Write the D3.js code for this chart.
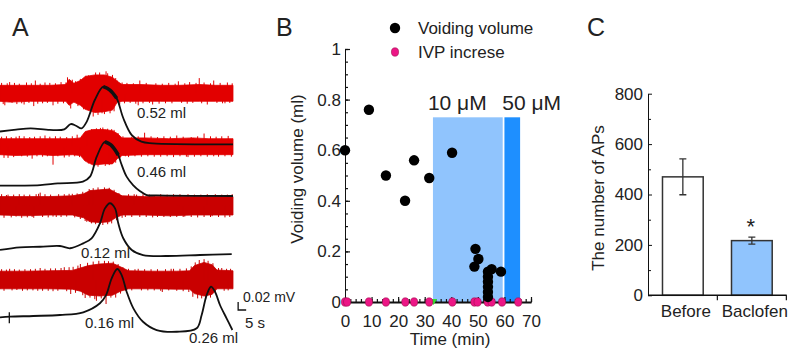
<!DOCTYPE html>
<html>
<head>
<meta charset="utf-8">
<script src="https://cdn.jsdelivr.net/npm/d3@7"></script>
<style>
body { margin: 0; background: #fff; }
svg text { font-family: "Liberation Sans", Arial, sans-serif; fill: #222; }
</style>
</head>
<body>
<svg id="fig" width="798" height="351"></svg>
<script>
// ---------- Panel A: nerve activity (t in s, uV) and bladder pressure (t in s, cmH2O) ----------
// envelope rows: [t, upper uV, lower uV]
const nerveEnv1 = [[0,20,20],[6,20,22],[19,20,20],[31,20,20],[41,22,20],[43,35,30],[46,25,22],[50,32,30],[53,42,40],[59,46,48],[65,46,46],[70,40,42],[73,30,22],[76,22,20],[87,22,20],[100,20,20],[112,20,20],[124,22,20],[134,20,20],[145,20,20]];
const nerveEnv2 = [[0,20,20],[10,20,22],[25,20,20],[33,20,22],[45,20,20],[50,22,22],[53,38,36],[58,43,46],[65,43,43],[70,40,43],[73,33,30],[76,22,22],[90,22,20],[105,20,20],[120,22,20],[130,20,20],[145,20,20]];
const nerveEnv3 = [[0,23,23],[15,23,25],[30,23,23],[45,25,23],[52,30,30],[56,38,40],[62,40,42],[68,42,40],[72,33,30],[76,25,23],[90,23,23],[105,23,25],[120,23,23],[135,23,23],[145,23,23]];
const nerveEnv4 = [[0,22,22],[15,22,22],[30,23,22],[45,24,23],[50,30,28],[55,36,38],[62,40,40],[70,42,38],[75,33,28],[80,23,22],[95,22,22],[110,22,23],[118,23,23],[121,36,34],[127,44,40],[132,38,36],[135,25,22],[145,23,22]];

// single large deflections that make the fuzzy edge: [t, uV]
const nerveSpk1 = [[1,26],[2,-27],[3,-30],[4.5,25],[6,28],[7.5,-24],[9,26],[10.5,-27],[12,24],[13.5,-25],[15,-28],[16.5,27],[18,-24],[19.5,25],[21,-32],[22,32],[23.5,-26],[25,24],[26.5,-25],[28,27],[29.5,-24],[31,26],[33,-30],[34.5,25],[36,-26],[38,28],[39.5,-25],[41,27],[42,40],[44,-38],[45,34],[47,30],[48.5,-32],[50,36],[52,-40],[53.5,44],[55,45],[56.5,-50],[58,-58],[59.5,52],[61,-54],[62,52],[63.5,-50],[65,-52],[66,55],[67,50],[68.5,-50],[70,46],[71,-45],[72,38],[73,32],[74.5,-28],[76,27],[77.5,-25],[79,26],[81,-24],[83,25],[84.5,-26],[86,-30],[87,32],[89,-25],[91,26],[93,-24],[95,-28],[97,25],[99,-26],[101,24],[103,-25],[105,26],[107,-25],[109,24],[111,30],[113,-24],[115,25],[116.5,-26],[118,28],[120,-24],[122,26],[124,38],[125.5,-25],[127,27],[129,-28],[131,25],[133,32],[135,-24],[137,26],[138.5,-25],[140,-25],[141.5,27],[143,-24],[144.5,25]];
const nerveSpk2 = [[1,25],[2.5,-28],[4,26],[5,-28],[7,24],[8.5,-26],[10,25],[12,27],[13.5,-24],[15,26],[17,-25],[18.5,24],[20,-30],[21.5,25],[23,-24],[25,26],[26.5,-25],[28,28],[29.5,-24],[31,25],[33,-45],[34.5,26],[36,-24],[37.5,25],[40,-27],[41.5,24],[43,-25],[45,26],[46.5,-24],[48,30],[49.5,-26],[51,27],[52.5,-34],[54,38],[55,-42],[56,40],[57,44],[58.5,-48],[60,46],[61,-50],[62.5,47],[64,48],[65.5,-48],[67,45],[68,-46],[69.5,44],[71,42],[72,-40],[73.5,34],[75,-27],[76.5,26],[78,-24],[80,-26],[82,25],[84,-24],[86,26],[88,-25],[90,35],[92,-24],[94,26],[96,-25],[98,24],[100,-25],[102,26],[104,-24],[106,25],[108,-26],[110,28],[112,-24],[114,25],[116,-25],[117,-26],[119,24],[121,-25],[123,26],[125,-24],[127,33],[129,-25],[131,26],[133,-24],[134.5,25],[136,-25],[138,26],[140,-24],[142,27],[144,-25]];
const nerveSpk3 = [[1,29],[2.5,-30],[4,27],[5,28],[7,-29],[8.5,28],[10,-27],[12,29],[13.5,-30],[15,28],[17,-29],[18.5,28],[20,-28],[21,-30],[22.5,29],[24,30],[25,33],[26.5,-28],[28,29],[30,-29],[31.5,28],[33,-27],[35,-28],[36.5,29],[38,-28],[40,29],[41.5,-27],[43,30],[45,30],[46.5,-29],[48,31],[50,-33],[51.5,35],[53,-38],[54,-40],[55.5,42],[57,-44],[58,44],[59.5,-46],[61,46],[62.5,-45],[64,-48],[65,46],[66,42],[67,-46],[68,45],[69.5,-44],[71,40],[72.5,-36],[74,32],[76,-30],[78,-28],[80,29],[82,-28],[83.5,29],[85,28],[87,-28],[89,29],[91,-28],[93,28],[95,-29],[96,27],[98,-28],[100,29],[102,-28],[104,28],[106,-28],[108,29],[110,-28],[112,29],[114,-28],[115,-27],[117,29],[119,-28],[121,28],[123,-29],[125,28],[127,-28],[129,29],[131,-28],[132,-26],[134,29],[136,-28],[138,28],[140,-29],[141.5,28],[143,-28],[144.5,29]];
const nerveSpk4 = [[1,27],[2.5,-27],[4,26],[6,28],[7.5,-26],[9,27],[10.5,-25],[12,26],[14,-27],[15.5,27],[17,-26],[19,27],[20.5,-26],[22,28],[23.5,-27],[25,30],[26.5,-27],[28,28],[30,-27],[31.5,29],[33,-28],[34.5,29],[36,-27],[38,30],[40,32],[41.5,-28],[43,32],[44,-35],[45.5,33],[47,-32],[48.5,36],[50,40],[51.5,-38],[53,-45],[54.5,43],[56,-44],[58,46],[59,-48],[60,-52],[61.5,48],[63,-46],[64,36],[65,48],[66,-60],[67.5,47],[69,-44],[70.5,46],[72,-44],[73.5,40],[75,-34],[76.5,32],[78,-27],[80,28],[82,-26],[84,27],[86,28],[88,-26],[90,27],[92,-26],[94,27],[96,-26],[98,27],[100,-27],[101,-30],[103,27],[105,-26],[106.5,28],[108,28],[110,-27],[112,28],[114,-28],[116,29],[117.5,-30],[119,34],[120,-42],[121.5,44],[123,-46],[124,50],[125.5,-46],[127,52],[128,-48],[129.5,48],[131,-44],[132.5,42],[134,-34],[136,30],[138,30],[139.5,-27],[141,28],[142,-26],[143.5,28]];

const pressure1 = [[0,15],[10,17],[19,18.5],[31,16.7],[40,17.4],[44,23.3],[47.3,21.4],[50.8,18.6],[54,26],[59,50],[64.3,64.8],[68.4,61],[72.6,52],[76.7,30],[82,11],[88,3.7],[95,1.9],[145,0.8]];
const pressure2 = [[0,12.6],[25,13.3],[36,15.2],[51.6,17],[56,22.6],[60.2,44.8],[65.3,61.4],[69,57.8],[73.6,46.7],[75.3,37.8],[78.8,22.6],[82.8,13.3],[87,6.7],[91.3,2.2],[97.5,1.7],[145,1.1]];
const pressure3 = [[0,7.8],[12.4,10.8],[25,11.4],[37.3,12.2],[43.6,9.7],[51.8,15.2],[57,20.8],[62.2,37.4],[65.3,54],[68.4,59.7],[71.6,54],[73.6,37.4],[76.7,20.8],[82,7.8],[89,2.2],[103.7,1.1],[124.5,2.2],[144.2,3.3]];
const pressure4 = [[0,16.3],[6.2,17],[20.7,17.8],[37.3,18.9],[51.8,21.9],[62.2,31.9],[66,41],[69.5,59.7],[73,70],[75.7,63.3],[78.8,44.8],[83,26.3],[89,11.4],[97.5,2.2],[110,0.3],[122.4,4.1],[125.5,18.9],[128.6,41],[131.3,50.3],[133.8,44.8],[136.9,30],[141,15.2],[144.6,2.2]];

const volumeLabels = ["0.52 ml", "0.46 ml", "0.12 ml", "0.16 ml", "0.26 ml"];
const stimMarkTime = 5.8;

// ---------- Panel B ----------
const voidTime = [0, 9, 15.4, 22.6, 26, 31.7, 40.3, 49.1, 48.7, 50.2, 53.8, 53.8, 53.8, 53.8, 53.8, 53.8, 55.2, 58.7];
const voidVol  = [0.60, 0.76, 0.50, 0.40, 0.56, 0.49, 0.59, 0.21, 0.14, 0.17, 0.12, 0.10, 0.08, 0.06, 0.04, 0.02, 0.13, 0.12];
const ivpTime  = [0, 0.8, 9, 15.4, 22.7, 26, 31.7, 40.4, 48.7, 49.9, 53.7, 55.2, 59.1, 65.2];
const drugStart = [33.1, 60];
const drugEnd   = [59.35, 65.9];
const drugTop   = 0.73;
const drugLabels = ["10 \u03bcM", "50 \u03bcM"];
const legendLabels = ["Voiding volume", "IVP increse"];
const drugOnset = 33.3;

// ---------- Panel C ----------
const groups = ["Before", "Baclofen"];
const apMean = [470, 217];
const apErr  = [71, 14];

const svg = d3.select("#fig");

// ====================== Panel A ======================
const gA = svg.append("g");
gA.append("text").attr("x", 12).attr("y", 36).style("font-size", "25px").text("A");

const tScale = d3.scaleLinear().domain([0, 145]).range([0, 233]);

const rowsA = [
  { env: nerveEnv1, spk: nerveSpk1, prs: pressure1, center: 93.3,  zero: 145, col: "#e20000", thick: [63, 73.5] },
  { env: nerveEnv2, spk: nerveSpk2, prs: pressure2, center: 146.7, zero: 197, col: "#e20000", thick: [64.5, 74] },
  { env: nerveEnv3, spk: nerveSpk3, prs: pressure3, center: 205.8, zero: 257, col: "#c90000" },
  { env: nerveEnv4, spk: nerveSpk4, prs: pressure4, center: 280,   zero: 332, col: "#c90000" }
];

rowsA.forEach(r => {
  // 20 uV = 8 px
  r.amp = d3.scaleLinear().domain([0, 20]).range([r.center, r.center - 8]);
  r.pY = d3.scaleLinear().domain([0, 1]).range([r.zero, r.zero - 0.9]);
});

// nerve bands first
rowsA.forEach(r => {
  const area = d3.area()
    .x(d => tScale(d[0]))
    .y0(d => r.amp(-d[2]))
    .y1(d => r.amp(d[1]))
    .curve(d3.curveLinear);
  gA.append("path").datum(r.env)
    .attr("d", area)
    .attr("fill", r.col)
    .attr("stroke", r.col)
    .attr("stroke-width", 0.8);
  gA.selectAll(null).data(r.spk).enter().append("line")
    .attr("x1", d => tScale(d[0])).attr("x2", d => tScale(d[0]))
    .attr("y1", r.amp(0)).attr("y2", d => r.amp(d[1]))
    .attr("stroke", r.col).attr("stroke-width", 1);
});

// pressure traces on top
rowsA.forEach(r => {
  const line = d3.line()
    .x(d => tScale(d[0]))
    .y(d => r.pY(d[1]))
    .curve(d3.curveCatmullRom.alpha(0.5));
  gA.append("path").datum(r.prs)
    .attr("d", line)
    .attr("fill", "none")
    .attr("stroke", "#111")
    .attr("stroke-width", 1.8);
  if (r.thick) {
    gA.append("path").datum(r.prs.filter(d => d[0] >= r.thick[0] && d[0] <= r.thick[1]))
      .attr("d", line)
      .attr("fill", "none")
      .attr("stroke", "#111")
      .attr("stroke-width", 3.6);
  }
});

// stimulation mark on last row
{
  const r = rowsA[3];
  const x0 = tScale(stimMarkTime);
  gA.append("line").attr("x1", x0).attr("x2", x0)
    .attr("y1", r.pY(16.3) - 5).attr("y2", r.pY(16.3) + 6)
    .attr("stroke", "#111").attr("stroke-width", 1.3);
}

const volPos = [[137, 118], [137, 177], [81, 258], [85, 328], [189, 343]];
gA.selectAll("text.vol").data(volumeLabels).enter().append("text")
  .attr("class", "vol")
  .attr("x", (d, i) => volPos[i][0]).attr("y", (d, i) => volPos[i][1])
  .style("font-size", "15px")
  .text(d => d);

// scale bar: 0.02 mV, 5 s
{
  const sbAmp = d3.scaleLinear().domain([0, 20]).range([310, 302]);
  const sx0 = tScale(148.2), sx1 = tScale(148.2 + 5);
  gA.append("path")
    .attr("d", `M${sx0},${sbAmp(20)}V${sbAmp(0)}H${sx1}`)
    .attr("fill", "none").attr("stroke", "#111").attr("stroke-width", 1.3);
  gA.append("text").attr("x", 243).attr("y", 302).style("font-size", "14px").text("0.02 mV");
  gA.append("text").attr("x", 245).attr("y", 328).style("font-size", "15px").text("5 s");
}

// ====================== Panel B ======================
const gB = svg.append("g");
gB.append("text").attr("x", 276).attr("y", 36).style("font-size", "25px").text("B");

const xB = d3.scaleLinear().domain([0, 70]).range([345, 531]);
const yB = d3.scaleLinear().domain([0, 1]).range([302, 49]);

// drug application shading
gB.selectAll("rect.drug").data(drugStart).enter().append("rect")
  .attr("class", "drug")
  .attr("x", (d, i) => xB(d))
  .attr("width", (d, i) => xB(drugEnd[i]) - xB(d))
  .attr("y", yB(drugTop))
  .attr("height", yB(0) - yB(drugTop))
  .attr("fill", (d, i) => i === 0 ? "#90c4fd" : "#1e8fff");

gB.selectAll("text.drug").data(drugLabels).enter().append("text")
  .attr("class", "drug")
  .attr("x", (d, i) => i === 0 ? xB(31.2) : xB(59.2))
  .attr("y", 110)
  .style("font-size", "21px")
  .text(d => d);

// y axis (inward ticks)
const yAxisMinor = d3.axisLeft(yB).tickValues(d3.range(0, 1.0001, 0.05)).tickSize(-3).tickFormat("").tickSizeOuter(0);
const yAxisMajor = d3.axisLeft(yB).tickValues([0, 0.2, 0.4, 0.6, 0.8, 1]).tickSize(-5).tickPadding(4).tickSizeOuter(0)
  .tickFormat(d => (d === 0 || d === 1) ? String(d) : d3.format(".1f")(d));
gB.append("g").attr("transform", "translate(345,0)").call(yAxisMinor);
const gyB = gB.append("g").attr("transform", "translate(345,0)").call(yAxisMajor);
gyB.selectAll("text").style("font-size", "17px").attr("fill", "#222");

// x axis (inward ticks)
const xAxisMinor = d3.axisBottom(xB).tickValues(d3.range(0, 70.001, 2)).tickSize(-3).tickFormat("").tickSizeOuter(0);
const xAxisMajor = d3.axisBottom(xB).tickValues(d3.range(0, 71, 10)).tickSize(-5).tickPadding(13).tickSizeOuter(0);
gB.append("g").attr("transform", "translate(0,302)").call(xAxisMinor);
const gxB = gB.append("g").attr("transform", "translate(0,302)").call(xAxisMajor);
gxB.selectAll("text").style("font-size", "17px").attr("fill", "#222");
gxB.select(".domain").attr("stroke-width", 2);
gB.selectAll(".domain, .tick line").attr("stroke", "#111");
gB.selectAll(".tick line").attr("stroke-width", 1.2);

// drug onset marker
gB.append("path")
  .attr("d", d3.symbol().type(d3.symbolTriangle).size(22))
  .attr("transform", `translate(${xB(drugOnset)},${yB(0) - 1}) rotate(180)`)
  .attr("fill", "#2ee02e");

// IVP increase points
gB.selectAll("ellipse.ivp").data(ivpTime).enter().append("ellipse")
  .attr("class", "ivp")
  .attr("cx", d => xB(d)).attr("cy", yB(0))
  .attr("rx", 3.6).attr("ry", 4.2)
  .attr("fill", "#ec1686").attr("stroke", "#a0104f").attr("stroke-width", 0.6);

// voiding volume points
gB.selectAll("circle.void").data(voidTime).enter().append("circle")
  .attr("class", "void")
  .attr("cx", d => xB(d)).attr("cy", (d, i) => yB(voidVol[i]))
  .attr("r", 5.2).attr("fill", "#000");

// axis titles
gB.append("text").attr("x", 450).attr("y", 345).attr("text-anchor", "middle")
  .style("font-size", "17px").text("Time (min)");
gB.append("text").attr("transform", "translate(303,169) rotate(-90)").attr("text-anchor", "middle")
  .style("font-size", "17px").text("Voiding volume (ml)");

// legend
gB.append("circle").attr("cx", 395).attr("cy", 28).attr("r", 5.2).attr("fill", "#000");
gB.append("ellipse").attr("cx", 395).attr("cy", 52).attr("rx", 3.6).attr("ry", 4.2)
  .attr("fill", "#ec1686").attr("stroke", "#a0104f").attr("stroke-width", 0.6);
gB.selectAll("text.leg").data(legendLabels).enter().append("text")
  .attr("class", "leg")
  .attr("x", 418).attr("y", (d, i) => 34 + i * 24)
  .style("font-size", "17px").text(d => d);

// ====================== Panel C ======================
const gC = svg.append("g");
gC.append("text").attr("x", 587).attr("y", 36).style("font-size", "25px").text("C");

const xC = d3.scaleBand().domain(groups).range([648, 786.7]).paddingInner(0.41).paddingOuter(0.21);
const yC = d3.scaleLinear().domain([0, 800]).range([295.3, 93.7]);

gC.selectAll("rect.bar").data(groups).enter().append("rect")
  .attr("class", "bar")
  .attr("x", d => xC(d)).attr("width", xC.bandwidth())
  .attr("y", (d, i) => yC(apMean[i]))
  .attr("height", (d, i) => yC(0) - yC(apMean[i]))
  .attr("fill", (d, i) => i === 0 ? "#fff" : "#90c4fd")
  .attr("stroke", "#333").attr("stroke-width", 1.5);

// error bars
groups.forEach((g, i) => {
  const cx = xC(g) + xC.bandwidth() / 2;
  const top = yC(apMean[i] + apErr[i]), bot = yC(apMean[i] - apErr[i]);
  gC.append("path")
    .attr("d", `M${cx},${top}V${bot}M${cx - 3.5},${top}H${cx + 3.5}M${cx - 3.5},${bot}H${cx + 3.5}`)
    .attr("stroke", "#333").attr("stroke-width", 1.3).attr("fill", "none");
});

// significance mark
gC.append("text").attr("x", xC("Baclofen") + xC.bandwidth() / 2 - 1).attr("y", 234)
  .attr("text-anchor", "middle").style("font-size", "22px").text("*");

// y axis
const yCMinor = d3.axisLeft(yC).tickValues([100, 300, 500, 700]).tickSize(-3).tickFormat("").tickSizeOuter(0);
const yCMajor = d3.axisLeft(yC).tickValues([0, 200, 400, 600, 800]).tickSize(-4).tickPadding(5).tickSizeOuter(0);
gC.append("g").attr("transform", "translate(648,0)").call(yCMinor);
const gyC = gC.append("g").attr("transform", "translate(648,0)").call(yCMajor);
gyC.selectAll("text").style("font-size", "17px").attr("fill", "#222");

// x axis: baseline with ticks between categories
gC.append("line").attr("x1", 648).attr("x2", 786.7).attr("y1", yC(0)).attr("y2", yC(0))
  .attr("stroke", "#111").attr("stroke-width", 1.5);
const sepX = groups.map(g => xC(g) + xC.bandwidth() + (xC.step() - xC.bandwidth()) / 2);
gC.selectAll("line.sep").data(sepX).enter().append("line")
  .attr("class", "sep")
  .attr("x1", d => d).attr("x2", d => d)
  .attr("y1", yC(0)).attr("y2", yC(0) + 5)
  .attr("stroke", "#111").attr("stroke-width", 1.2);
gC.selectAll("text.cat").data(groups).enter().append("text")
  .attr("class", "cat")
  .attr("x", d => xC(d) + xC.bandwidth() / 2 + 3).attr("y", 317)
  .attr("text-anchor", "middle").style("font-size", "17px").text(d => d);
gC.selectAll(".domain, .tick line").attr("stroke", "#111");

gC.append("text").attr("transform", "translate(604,198) rotate(-90)").attr("text-anchor", "middle")
  .style("font-size", "17px").text("The number of APs");
</script>
</body>
</html>
